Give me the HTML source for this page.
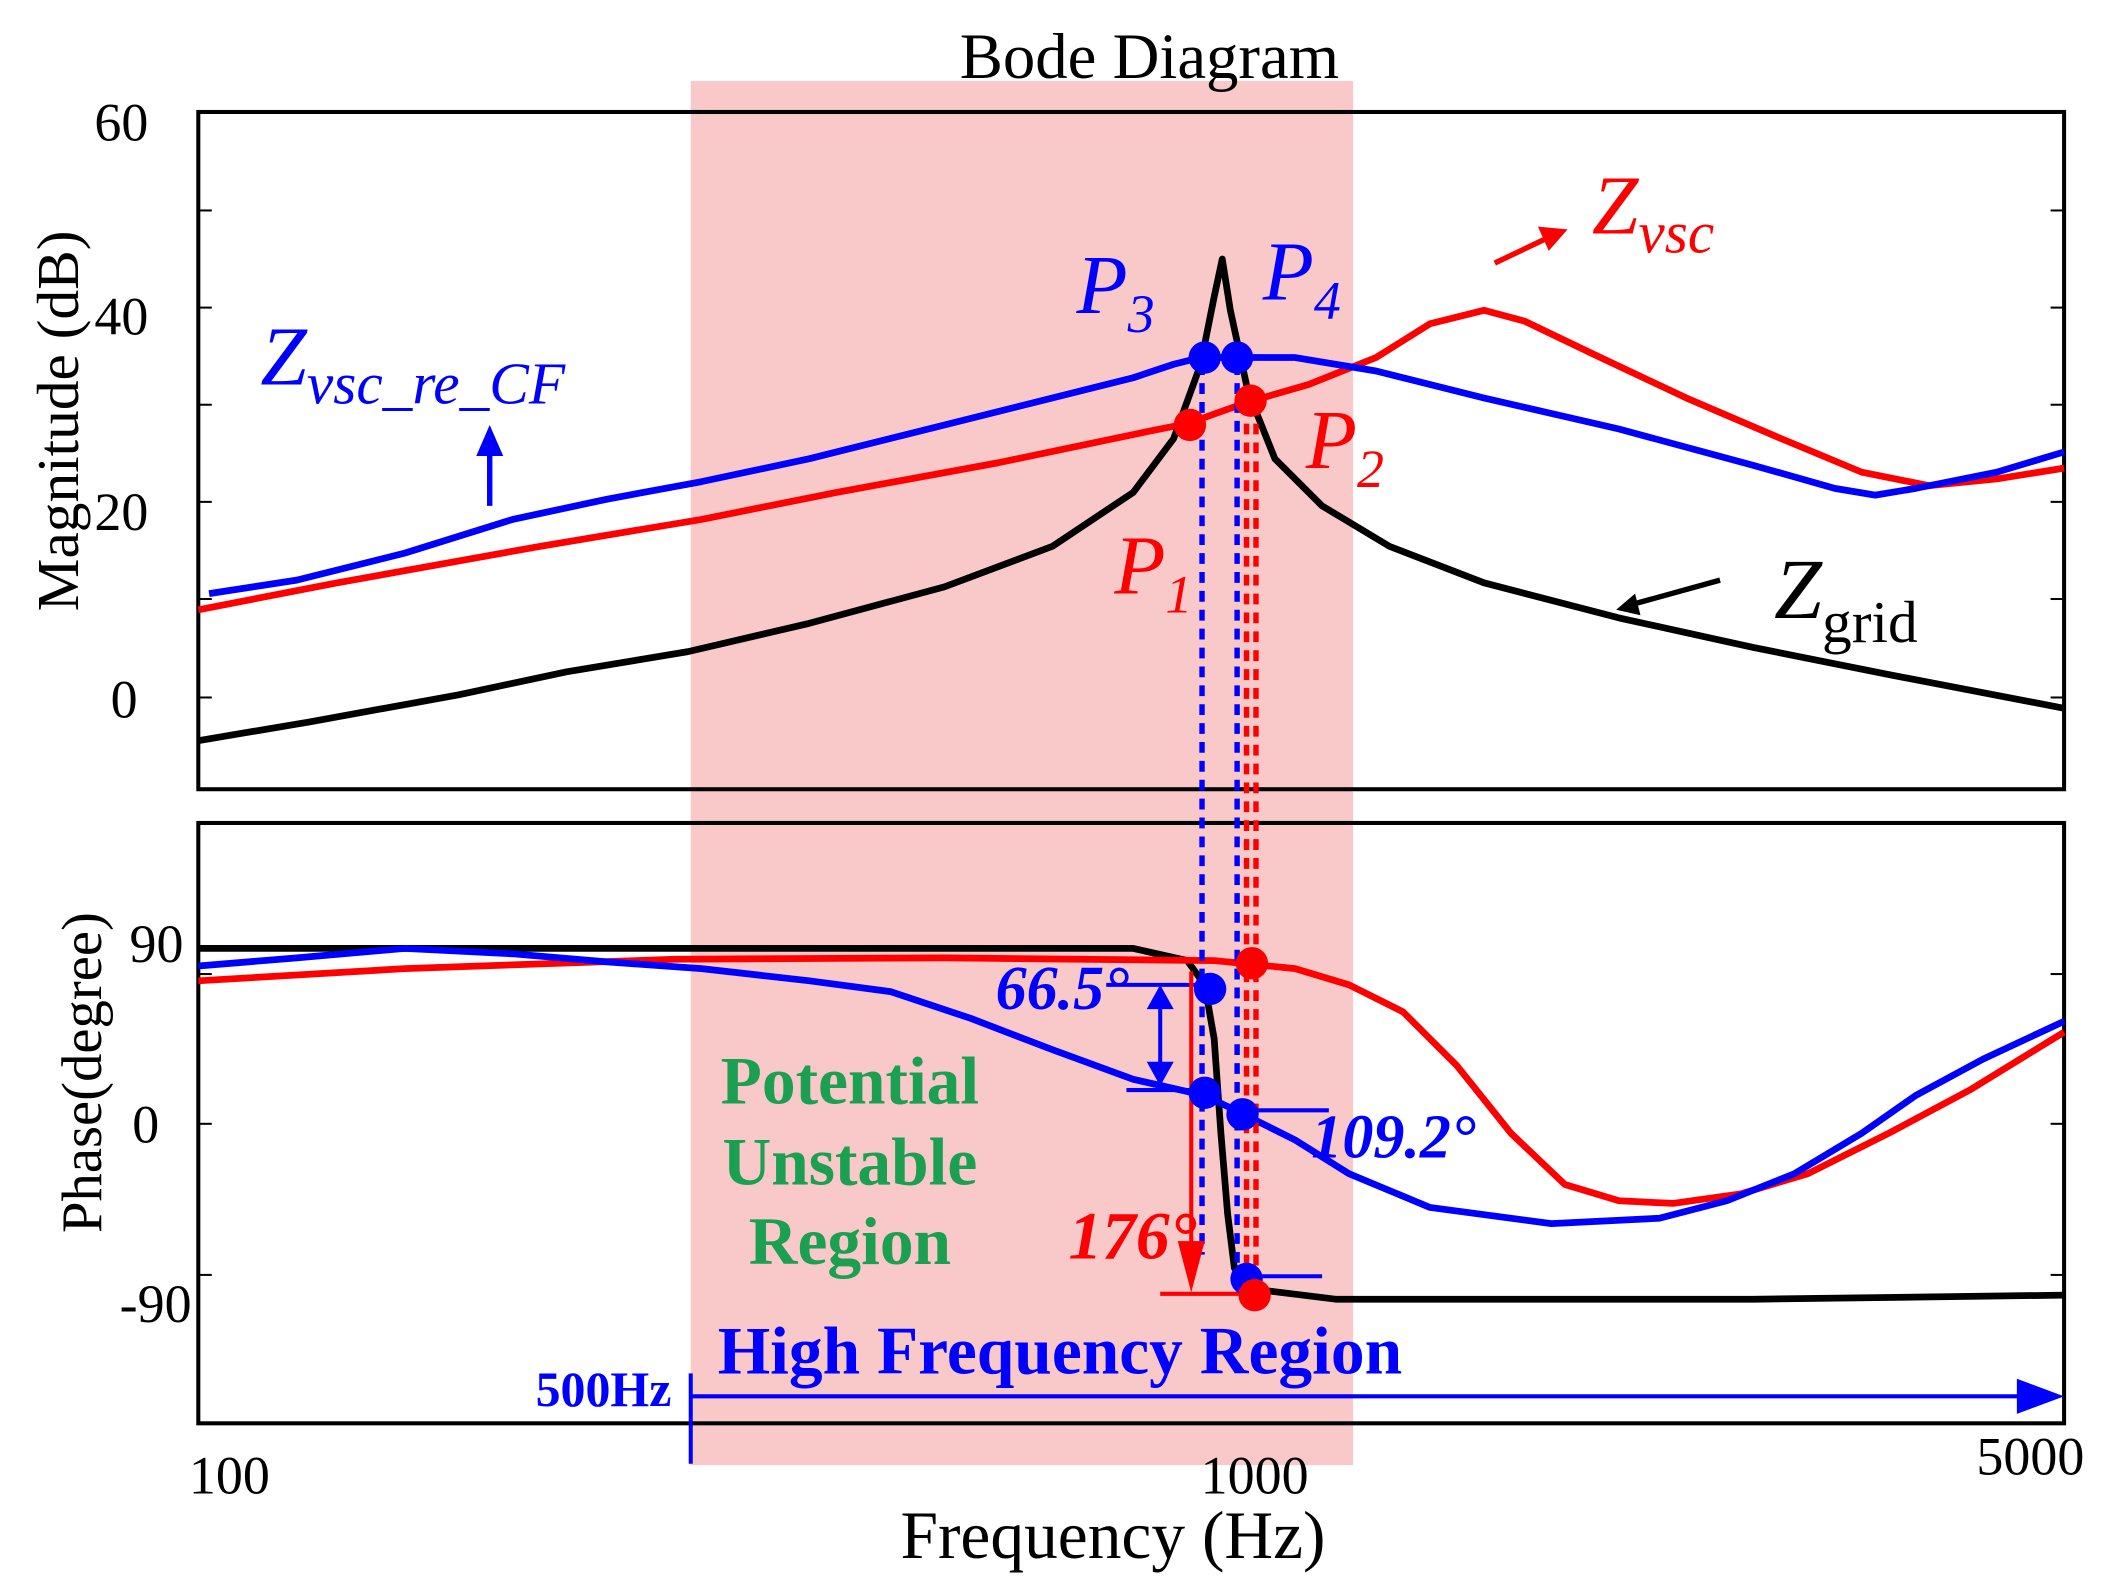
<!DOCTYPE html>
<html><head><meta charset="utf-8"><style>html,body{margin:0;padding:0;background:#fff}svg{display:block}</style></head>
<body>
<svg width="2114" height="1596" viewBox="0 0 1567 1183" preserveAspectRatio="none" xmlns="http://www.w3.org/2000/svg" font-family="'Liberation Serif', serif">
<rect x="0" y="0" width="1567" height="1183" fill="#fff"/>
<rect x="512" y="60" width="491" height="1026" fill="#f9c8c8"/>
<text x="852" y="58" font-size="48" text-anchor="middle">Bode Diagram</text>
<rect x="147" y="83" width="1383" height="502" fill="none" stroke="#000" stroke-width="3"/>
<rect x="147" y="610" width="1383" height="445" fill="none" stroke="#000" stroke-width="3"/>
<g stroke="#000" stroke-width="1.5">
<line x1="147" y1="156" x2="157" y2="156"/><line x1="147" y1="228" x2="157" y2="228"/><line x1="147" y1="300" x2="157" y2="300"/><line x1="147" y1="372" x2="157" y2="372"/><line x1="147" y1="444" x2="157" y2="444"/><line x1="147" y1="517" x2="157" y2="517"/>
<line x1="1520" y1="156" x2="1530" y2="156"/><line x1="1520" y1="228" x2="1530" y2="228"/><line x1="1520" y1="300" x2="1530" y2="300"/><line x1="1520" y1="372" x2="1530" y2="372"/><line x1="1520" y1="444" x2="1530" y2="444"/><line x1="1520" y1="517" x2="1530" y2="517"/>
<line x1="147" y1="722" x2="157" y2="722"/><line x1="147" y1="833" x2="157" y2="833"/><line x1="147" y1="945" x2="157" y2="945"/>
<line x1="1520" y1="722" x2="1530" y2="722"/><line x1="1520" y1="833" x2="1530" y2="833"/><line x1="1520" y1="945" x2="1530" y2="945"/>
</g>
<g font-size="40" text-anchor="end">
<text x="110" y="104">60</text><text x="110" y="248">40</text><text x="110" y="393">20</text><text x="102" y="532">0</text>
<text x="136" y="713">90</text><text x="118" y="847">0</text><text x="142" y="980">-90</text>
</g>
<g font-size="40" text-anchor="middle">
<text x="170" y="1107">100</text><text x="930" y="1107">1000</text><text x="1505" y="1093">5000</text>
</g>
<text x="825" y="1155" font-size="50" text-anchor="middle">Frequency  (Hz)</text>
<text transform="translate(58,312) rotate(-90)" font-size="44" text-anchor="middle">Magnitude  (dB)</text>
<text transform="translate(75,795) rotate(-90)" font-size="42" text-anchor="middle">Phase(degree)</text>
<g fill="none" stroke-width="5" stroke-linejoin="round">
<polyline stroke="#000" points="147,549 230,535 340,515 420,498 510,483 600,462 700,435 780,405 840,365 870,325 890,270 900,220 906,192 912,230 925,290 945,340 980,375 1030,405 1100,432 1200,458 1300,480 1400,500 1530,525"/>
<polyline stroke="#f00" points="147,452 250,432 400,405 520,385 620,365 740,343 850,320 880,314 925,298 970,285 1020,265 1060,240 1100,230 1130,238 1180,262 1250,295 1320,325 1380,350 1430,360 1480,355 1530,347"/>
<polyline stroke="#00f" points="155,440 220,430 300,410 380,385 450,370 520,357 600,340 700,315 780,295 840,280 870,270 890,265 960,265 1020,275 1100,295 1200,318 1300,345 1360,362 1390,367 1420,362 1480,350 1530,335"/>
<polyline stroke="#000" points="147,703 840,703 880,712 893,730 900,770 905,840 910,900 915,940 925,955 990,963 1300,963 1530,960"/>
<polyline stroke="#f00" points="147,727 300,718 500,711 700,710 900,712 960,718 1000,730 1040,750 1080,790 1120,840 1160,878 1200,890 1240,892 1290,885 1340,870 1400,840 1460,808 1530,765"/>
<polyline stroke="#00f" points="147,716 220,710 300,703 380,707 450,713 520,718 600,727 660,735 720,755 780,778 840,800 893,812 920,825 960,845 1000,870 1060,895 1150,907 1230,903 1280,890 1330,870 1380,840 1420,812 1470,785 1530,757"/>
</g>
<g stroke-width="4" stroke-dasharray="8,6" fill="none">
<line x1="891" y1="270" x2="891" y2="930" stroke="#00f"/>
<line x1="917" y1="270" x2="917" y2="940" stroke="#00f"/>
<line x1="924" y1="300" x2="924" y2="945" stroke="#f00"/>
<line x1="931" y1="300" x2="931" y2="958" stroke="#f00"/>
</g>
<g stroke-width="3">
<line x1="820" y1="730" x2="900" y2="730" stroke="#00f"/>
<line x1="835" y1="808" x2="895" y2="808" stroke="#00f"/>
<line x1="860" y1="735" x2="860" y2="800" stroke="#00f"/>
<line x1="925" y1="823" x2="985" y2="823" stroke="#00f"/>
<line x1="925" y1="946" x2="980" y2="946" stroke="#00f"/>
<line x1="860" y1="959" x2="935" y2="959" stroke="#f00"/>
<line x1="883" y1="720" x2="883" y2="930" stroke="#f00"/>
<line x1="512" y1="1018" x2="512" y2="1085" stroke="#00f"/>
<line x1="512" y1="1035" x2="1500" y2="1035" stroke="#00f"/>
</g>
<polygon points="850,748 870,748 860,730" fill="#00f"/>
<polygon points="850,787 870,787 860,805" fill="#00f"/>
<polygon points="873,920 893,920 883,958" fill="#f00"/>
<polygon points="1495,1022 1530,1035 1495,1048" fill="#00f"/>
<g fill="#00f"><circle cx="893" cy="265" r="12"/><circle cx="917" cy="265" r="12"/><circle cx="897" cy="733" r="12"/><circle cx="893" cy="810" r="12"/><circle cx="921" cy="826" r="12"/><circle cx="924" cy="948" r="12"/></g>
<g fill="#f00"><circle cx="882" cy="315" r="12"/><circle cx="927" cy="297" r="12"/><circle cx="928" cy="714" r="12"/><circle cx="930" cy="960" r="12"/></g>
<g font-style="italic" font-size="62">
<text x="798" y="232" fill="#00f">P<tspan font-size="40" dy="14">3</tspan></text>
<text x="936" y="222" fill="#00f">P<tspan font-size="40" dy="14">4</tspan></text>
<text x="968" y="347" fill="#f00">P<tspan font-size="40" dy="14">2</tspan></text>
<text x="826" y="440" fill="#f00">P<tspan font-size="40" dy="14">1</tspan></text>
<text x="1180" y="173" fill="#f00">Z<tspan font-size="44" dy="14">vsc</tspan></text>
<text x="193" y="285" fill="#00f">Z<tspan font-size="44" dy="14">vsc_re_CF</tspan></text>
</g>
<text x="1315" y="458" font-size="64" font-style="italic">Z<tspan font-style="normal" font-size="44" dy="18">grid</tspan></text>
<g stroke-width="4">
<line x1="1108" y1="195" x2="1150" y2="175" stroke="#f00"/>
<line x1="363" y1="375" x2="363" y2="325" stroke="#00f"/>
<line x1="1275" y1="430" x2="1210" y2="448" stroke="#000"/>
</g>
<polygon points="1162,170 1140,168 1148,186" fill="#f00"/>
<polygon points="363,315 353,338 373,338" fill="#00f"/>
<polygon points="1198,452 1212,440 1216,456" fill="#000"/>
<g font-weight="bold" font-style="italic">
<text x="738" y="748" fill="#00f" font-size="46">66.5°</text>
<text x="972" y="858" fill="#00f" font-size="46">109.2°</text>
<text x="792" y="933" fill="#f00" font-size="50">176°</text>
</g>
<g font-weight="bold" font-size="50" fill="#1aa050" text-anchor="middle">
<text x="630" y="818">Potential</text><text x="630" y="878">Unstable</text><text x="630" y="937">Region</text>
</g>
<text x="532" y="1018" font-weight="bold" font-size="50" fill="#00f">High Frequency Region</text>
<text x="397" y="1042" font-weight="bold" font-size="37" fill="#00f">500Hz</text>
</svg>
</body></html>
